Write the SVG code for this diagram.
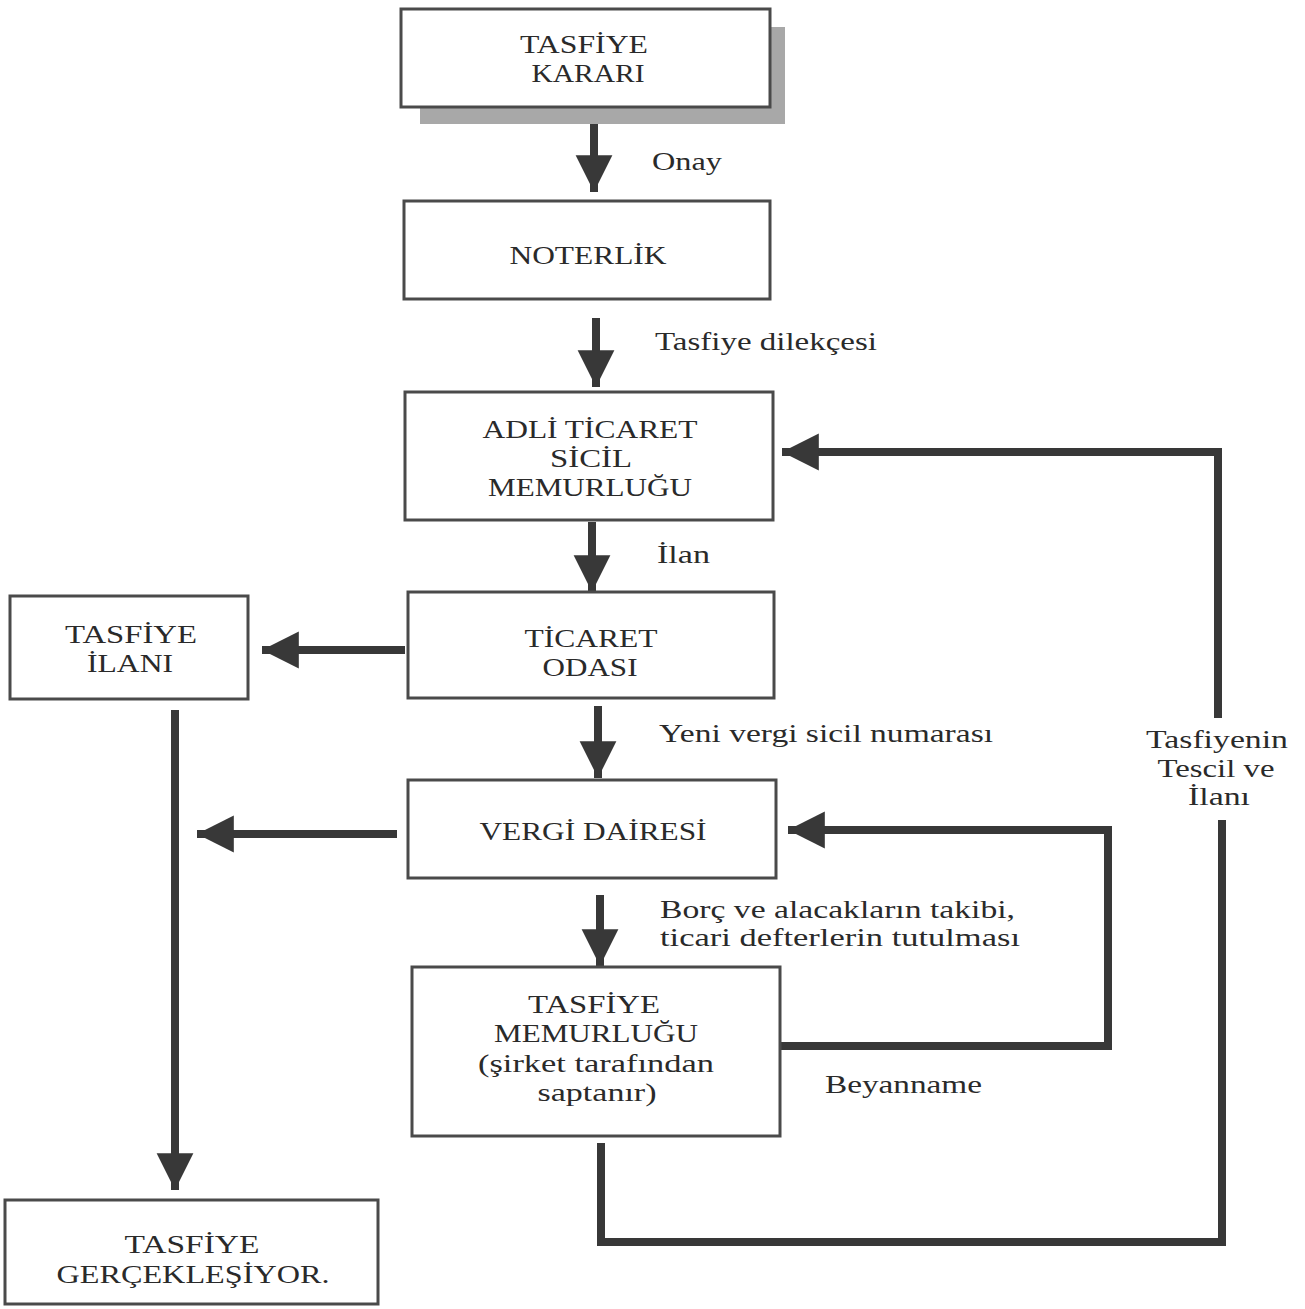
<svg xmlns="http://www.w3.org/2000/svg" width="1305" height="1309" viewBox="0 0 1305 1309">
<style>
.box{fill:#fff;stroke:#4a4a4a;stroke-width:3}
.t{font-family:"Liberation Serif","DejaVu Serif",serif;font-size:26px;fill:#2a2a2a;text-anchor:middle}
.l{font-family:"Liberation Serif","DejaVu Serif",serif;font-size:26px;fill:#2a2a2a}
.c{fill:none;stroke:#383838;stroke-width:8}
</style>
<defs>
<marker id="ah" viewBox="0 0 10 10" refX="10" refY="5" markerWidth="4.6" markerHeight="5" markerUnits="strokeWidth" orient="auto">
<path d="M0,0 L10,5 L0,10 Z" fill="#383838"/>
</marker>
</defs>
<rect width="1305" height="1309" fill="#fff"/>

<g id="connectors">
<path class="c" d="M594,108 V192" marker-end="url(#ah)"/>
<path class="c" d="M596,318 V387" marker-end="url(#ah)"/>
<path class="c" d="M592,522 V592" marker-end="url(#ah)"/>
<path class="c" d="M405,650 H262" marker-end="url(#ah)"/>
<path class="c" d="M598,706 V778" marker-end="url(#ah)"/>
<path class="c" d="M397,834 H197" marker-end="url(#ah)"/>
<path class="c" d="M175,710 V1190" marker-end="url(#ah)"/>
<path class="c" d="M600,895 V966" marker-end="url(#ah)"/>
<path class="c" d="M780,1046 H1108 V830 H788" marker-end="url(#ah)"/>
<path class="c" d="M601,1143 V1242 H1222 V820"/>
<path class="c" d="M1218,718 V452 H782" marker-end="url(#ah)"/>
</g>

<g id="n-karar">
<rect x="420" y="27" width="365" height="97" fill="#a8a8a8"/>
<rect class="box" x="401" y="9" width="369" height="98"/>
<text class="t" x="584" y="53" textLength="128" lengthAdjust="spacingAndGlyphs">TASFİYE</text>
<text class="t" x="588" y="82" textLength="113" lengthAdjust="spacingAndGlyphs">KARARI</text>
</g>
<text class="l" x="652" y="170" textLength="70" lengthAdjust="spacingAndGlyphs">Onay</text>

<g id="n-noterlik">
<rect class="box" x="404" y="201" width="366" height="98"/>
<text class="t" x="588" y="264" textLength="157" lengthAdjust="spacingAndGlyphs">NOTERLİK</text>
</g>
<text class="l" x="655" y="350" textLength="222" lengthAdjust="spacingAndGlyphs">Tasfiye dilekçesi</text>

<g id="n-adli">
<rect class="box" x="405" y="392" width="368" height="128"/>
<text class="t" x="590" y="438" textLength="215" lengthAdjust="spacingAndGlyphs">ADLİ TİCARET</text>
<text class="t" x="591" y="467" textLength="82" lengthAdjust="spacingAndGlyphs">SİCİL</text>
<text class="t" x="590" y="496" textLength="204" lengthAdjust="spacingAndGlyphs">MEMURLUĞU</text>
</g>
<text class="l" x="657" y="563" textLength="53" lengthAdjust="spacingAndGlyphs">İlan</text>

<g id="n-ticaret">
<rect class="box" x="408" y="592" width="366" height="106"/>
<text class="t" x="591" y="647" textLength="133" lengthAdjust="spacingAndGlyphs">TİCARET</text>
<text class="t" x="590" y="676" textLength="95" lengthAdjust="spacingAndGlyphs">ODASI</text>
</g>

<g id="n-ilan">
<rect class="box" x="10" y="596" width="238" height="103"/>
<text class="t" x="131" y="643" textLength="132" lengthAdjust="spacingAndGlyphs">TASFİYE</text>
<text class="t" x="130" y="672" textLength="86" lengthAdjust="spacingAndGlyphs">İLANI</text>
</g>
<text class="l" x="659" y="742" textLength="334" lengthAdjust="spacingAndGlyphs">Yeni vergi sicil numarası</text>

<g id="n-vergi">
<rect class="box" x="408" y="780" width="368" height="98"/>
<text class="t" x="593" y="840" textLength="227" lengthAdjust="spacingAndGlyphs">VERGİ DAİRESİ</text>
</g>
<text class="l" x="660" y="918" textLength="355" lengthAdjust="spacingAndGlyphs">Borç ve alacakların takibi,</text>
<text class="l" x="660" y="946" textLength="360" lengthAdjust="spacingAndGlyphs">ticari defterlerin tutulması</text>

<g id="n-memur">
<rect class="box" x="412" y="967" width="368" height="169"/>
<text class="t" x="594" y="1013" textLength="132" lengthAdjust="spacingAndGlyphs">TASFİYE</text>
<text class="t" x="596" y="1042" textLength="204" lengthAdjust="spacingAndGlyphs">MEMURLUĞU</text>
<text class="t" x="596" y="1072" textLength="236" lengthAdjust="spacingAndGlyphs">(şirket tarafından</text>
<text class="t" x="597" y="1101" textLength="119" lengthAdjust="spacingAndGlyphs">saptanır)</text>
</g>
<text class="l" x="825" y="1093" textLength="157" lengthAdjust="spacingAndGlyphs">Beyanname</text>

<text class="t" x="1217" y="748" textLength="142" lengthAdjust="spacingAndGlyphs">Tasfiyenin</text>
<text class="t" x="1216" y="777" textLength="117" lengthAdjust="spacingAndGlyphs">Tescil ve</text>
<text class="t" x="1219" y="805" textLength="62" lengthAdjust="spacingAndGlyphs">İlanı</text>

<g id="n-son">
<rect class="box" x="5" y="1200" width="373" height="104"/>
<text class="t" x="192" y="1253" textLength="135" lengthAdjust="spacingAndGlyphs">TASFİYE</text>
<text class="t" x="193" y="1283" textLength="273" lengthAdjust="spacingAndGlyphs">GERÇEKLEŞİYOR.</text>
</g>
</svg>
